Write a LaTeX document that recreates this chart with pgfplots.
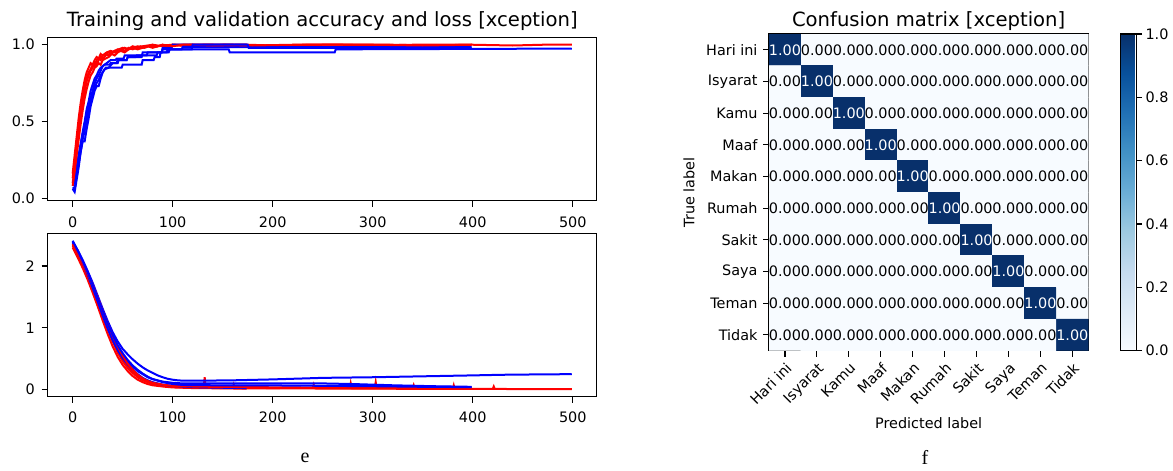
\documentclass[border=0pt]{standalone}
\usepackage{fontspec}
\setmainfont{DejaVu Sans}
\newfontfamily\capserif{Liberation Serif}
\usepackage{pgfplots}
\usepackage{pgfplotstable}
\pgfplotsset{compat=1.18}
\newcommand{\tsz}{\fontsize{14.4}{17}\selectfont}
\newcommand{\ttsz}{\fontsize{19.6}{23}\selectfont}
\definecolor{mplred}{RGB}{255,0,0}
\definecolor{mplblue}{RGB}{0,0,255}
\pgfplotsset{
  mpl/.style={scale only axis, tick align=outside, major tick length=6pt, tick pos=left,
    axis line style={line width=1.1pt, black}, tick style={line width=1.1pt, black},
    ticklabel style={font=\tsz, text=black}, /pgf/number format/assume math mode=true},
  lineax/.style={mpl, width=549pt, xmin=-24.95, xmax=523.95, xtick={0,100,200,300,400,500},
    xticklabel style={yshift=-6pt}, yticklabel style={xshift=-3.5pt},
    every axis title/.style={at={(0.5,1)}, anchor=base, inner sep=0pt, font=\ttsz, yshift=10.6pt}},
  tr/.style={mplred, line width=2pt},
  va/.style={mplblue, line width=2pt},
}
\pgfplotstableread{
x y c
0 0 1
1 0 0
2 0 0
3 0 0
4 0 0
5 0 0
6 0 0
7 0 0
8 0 0
9 0 0
0 1 0
1 1 1
2 1 0
3 1 0
4 1 0
5 1 0
6 1 0
7 1 0
8 1 0
9 1 0
0 2 0
1 2 0
2 2 1
3 2 0
4 2 0
5 2 0
6 2 0
7 2 0
8 2 0
9 2 0
0 3 0
1 3 0
2 3 0
3 3 1
4 3 0
5 3 0
6 3 0
7 3 0
8 3 0
9 3 0
0 4 0
1 4 0
2 4 0
3 4 0
4 4 1
5 4 0
6 4 0
7 4 0
8 4 0
9 4 0
0 5 0
1 5 0
2 5 0
3 5 0
4 5 0
5 5 1
6 5 0
7 5 0
8 5 0
9 5 0
0 6 0
1 6 0
2 6 0
3 6 0
4 6 0
5 6 0
6 6 1
7 6 0
8 6 0
9 6 0
0 7 0
1 7 0
2 7 0
3 7 0
4 7 0
5 7 0
6 7 0
7 7 1
8 7 0
9 7 0
0 8 0
1 8 0
2 8 0
3 8 0
4 8 0
5 8 0
6 8 0
7 8 0
8 8 1
9 8 0
0 9 0
1 9 0
2 9 0
3 9 0
4 9 0
5 9 0
6 9 0
7 9 0
8 9 0
9 9 1
}\cmtable
\begin{document}
\begin{tikzpicture}
\path[use as bounding box] (0pt,0pt) rectangle (1173pt,-471pt);
% ---------- accuracy ----------
\begin{axis}[lineax, at={(47.7pt,-37.3pt)}, anchor=north west, height=163.6pt,
  ymin=-0.0185, ymax=1.0485, ytick={0,0.5,1},
  yticklabel style={/pgf/number format/.cd, fixed, fixed zerofill, precision=1},
  title={Training and validation accuracy and loss [xception]}]
\addplot[tr] coordinates {(0,0.13)(2,0.24)(4,0.36)(6,0.47)(8,0.57)(10,0.65)(12,0.72)(14,0.78)(16,0.82)(18,0.84)(20,0.87)(22,0.86)(24,0.90)(26,0.91)(28,0.90)(30,0.93)(33,0.94)(36,0.93)(39,0.95)(42,0.96)(45,0.95)(48,0.97)(52,0.96)(56,0.98)(60,0.97)(64,0.98)(68,0.99)(72,0.98)(76,0.99)(80,0.985)(85,0.99)(90,1.0)(95,0.99)(100,1.0)(110,0.995)(120,1.0)(135,0.99)(150,1.0)(175,1.0)(200,0.995)(230,1.0)(270,1.0)(300,0.995)(340,1.0)(400,1.0)(440,0.995)(470,1.0)(499,1.0)};
\addplot[va] coordinates {(0,0.06)(2,0.04)(4,0.12)(6,0.2)(8,0.3)(10,0.37)(12,0.37)(14,0.45)(16,0.52)(18,0.6)(20,0.65)(22,0.7)(24,0.73)(26,0.73)(28,0.78)(30,0.82)(33,0.85)(36,0.85)(40,0.88)(45,0.88)(46,0.9)(54,0.9)(55,0.92)(63,0.92)(64,0.93)(84,0.93)(85,0.95)(96,0.95)(97,0.97)(156,0.97)(157,0.95)(262,0.95)(263,0.97)(499,0.975)};
\addplot[tr] coordinates {(0,0.10)(2,0.19)(4,0.30)(6,0.42)(8,0.53)(10,0.62)(12,0.70)(14,0.76)(16,0.80)(18,0.83)(20,0.85)(22,0.88)(24,0.87)(26,0.90)(28,0.92)(30,0.91)(33,0.93)(36,0.95)(39,0.94)(42,0.96)(45,0.97)(48,0.96)(52,0.98)(56,0.97)(60,0.98)(65,0.99)(70,0.98)(75,0.99)(80,1.0)(85,0.99)(90,0.995)(100,1.0)(115,0.99)(130,1.0)(160,1.0)(200,0.995)(250,1.0)(320,1.0)(360,0.995)(399,1.0)};
\addplot[va] coordinates {(0,0.1)(2,0.12)(4,0.2)(6,0.28)(8,0.35)(10,0.42)(12,0.48)(14,0.55)(16,0.6)(18,0.65)(20,0.7)(22,0.75)(24,0.78)(26,0.8)(28,0.83)(30,0.86)(34,0.88)(38,0.9)(43,0.9)(44,0.91)(51,0.91)(52,0.93)(74,0.93)(75,0.95)(89,0.95)(90,0.97)(109,0.97)(110,0.985)(399,0.985)};
\addplot[tr] coordinates {(0,0.16)(2,0.28)(4,0.40)(6,0.52)(8,0.62)(10,0.70)(12,0.77)(14,0.82)(16,0.85)(18,0.88)(20,0.87)(22,0.90)(24,0.92)(26,0.91)(28,0.94)(30,0.93)(34,0.95)(38,0.96)(42,0.95)(46,0.97)(50,0.98)(55,0.97)(60,0.99)(65,0.98)(70,0.99)(80,1.0)(90,0.99)(100,1.0)(120,1.0)(140,0.995)(174,1.0)};
\addplot[va] coordinates {(0,0.08)(2,0.1)(4,0.18)(6,0.27)(8,0.35)(10,0.43)(12,0.5)(14,0.58)(16,0.63)(18,0.7)(20,0.74)(22,0.78)(24,0.8)(26,0.83)(28,0.85)(32,0.87)(37,0.87)(38,0.88)(44,0.88)(45,0.9)(54,0.9)(55,0.92)(69,0.92)(70,0.95)(89,0.95)(90,0.98)(99,0.98)(100,1.0)(174,1.0)};
\addplot[tr] coordinates {(0,0.08)(2,0.17)(4,0.28)(6,0.38)(8,0.48)(10,0.57)(12,0.65)(14,0.71)(16,0.76)(18,0.80)(20,0.82)(22,0.85)(24,0.86)(26,0.88)(28,0.87)(30,0.90)(33,0.91)(36,0.92)(39,0.94)(42,0.93)(45,0.95)(48,0.96)(52,0.95)(56,0.97)(60,0.98)(65,0.97)(70,0.98)(75,0.99)(80,0.98)(85,0.99)(90,1.0)(100,0.99)(110,1.0)(140,1.0)(180,0.995)(220,1.0)(300,1.0)(350,0.995)(399,1.0)};
\addplot[va] coordinates {(0,0.07)(2,0.06)(4,0.14)(6,0.22)(8,0.3)(10,0.38)(12,0.44)(14,0.5)(16,0.57)(18,0.63)(20,0.67)(22,0.72)(24,0.75)(26,0.77)(28,0.8)(32,0.84)(36,0.85)(49,0.85)(50,0.87)(69,0.87)(70,0.9)(81,0.9)(82,0.92)(87,0.92)(88,0.95)(94,0.95)(95,0.97)(119,0.97)(120,1.0)(175,1.0)(176,0.98)(399,0.98)};
\end{axis}
% ---------- loss ----------
\begin{axis}[lineax, at={(47.7pt,-233.3pt)}, anchor=north west, height=163.4pt,
  ymin=-0.115, ymax=2.53, ytick={0,1,2}]
\addplot[tr] coordinates {(0,2.33)(5,2.18)(10,2.02)(15,1.84)(20,1.64)(25,1.42)(30,1.2)(35,0.98)(40,0.78)(45,0.6)(50,0.46)(55,0.35)(60,0.27)(65,0.2)(70,0.15)(75,0.12)(80,0.09)(90,0.06)(100,0.045)(110,0.035)(125,0.03)(131,0.03)(132,0.2)(133,0.03)(150,0.025)(180,0.02)(210,0.02)(240,0.018)(277,0.015)(278,0.1)(279,0.015)(302,0.015)(303,0.12)(304,0.015)(350,0.012)(380,0.012)(381,0.07)(382,0.01)(420,0.01)(421,0.05)(422,0.01)(499,0.008)};
\addplot[va] coordinates {(0,2.4)(5,2.26)(10,2.1)(15,1.92)(20,1.73)(25,1.52)(30,1.31)(35,1.11)(40,0.93)(45,0.78)(50,0.66)(55,0.57)(60,0.49)(65,0.42)(70,0.36)(75,0.31)(80,0.27)(85,0.23)(90,0.2)(95,0.175)(100,0.16)(105,0.15)(110,0.145)(130,0.145)(160,0.15)(200,0.165)(250,0.19)(300,0.2)(350,0.215)(400,0.23)(430,0.24)(460,0.245)(499,0.25)};
\addplot[tr] coordinates {(0,2.35)(5,2.2)(10,2.04)(15,1.87)(20,1.68)(25,1.47)(30,1.25)(35,1.03)(40,0.83)(45,0.65)(50,0.5)(55,0.38)(60,0.29)(65,0.22)(70,0.17)(75,0.13)(80,0.1)(90,0.07)(100,0.05)(120,0.04)(160,0.03)(161,0.08)(162,0.03)(200,0.025)(240,0.03)(241,0.08)(242,0.025)(300,0.02)(340,0.02)(341,0.07)(342,0.02)(399,0.015)};
\addplot[va] coordinates {(0,2.39)(5,2.24)(10,2.07)(15,1.88)(20,1.68)(25,1.46)(30,1.24)(35,1.03)(40,0.84)(45,0.68)(50,0.55)(55,0.45)(60,0.37)(65,0.3)(70,0.25)(75,0.2)(80,0.17)(90,0.13)(100,0.11)(110,0.1)(130,0.1)(160,0.1)(200,0.1)(250,0.1)(280,0.09)(320,0.07)(360,0.055)(399,0.045)};
\addplot[tr] coordinates {(0,2.3)(5,2.14)(10,1.97)(15,1.78)(20,1.57)(25,1.35)(30,1.12)(35,0.9)(40,0.7)(45,0.53)(50,0.4)(55,0.3)(60,0.22)(65,0.16)(70,0.12)(75,0.09)(80,0.07)(90,0.05)(100,0.035)(120,0.025)(150,0.02)(174,0.015)};
\addplot[va] coordinates {(0,2.38)(5,2.22)(10,2.05)(15,1.86)(20,1.65)(25,1.43)(30,1.2)(35,0.99)(40,0.8)(45,0.64)(50,0.51)(55,0.41)(60,0.32)(65,0.25)(70,0.19)(75,0.15)(80,0.12)(90,0.08)(100,0.06)(120,0.04)(150,0.03)(174,0.025)};
\addplot[tr] coordinates {(0,2.36)(5,2.21)(10,2.05)(15,1.88)(20,1.7)(25,1.5)(30,1.28)(35,1.07)(40,0.87)(45,0.7)(50,0.55)(55,0.42)(60,0.32)(65,0.24)(70,0.18)(75,0.14)(80,0.11)(90,0.08)(100,0.06)(120,0.05)(140,0.045)(180,0.04)(220,0.035)(260,0.03)(300,0.03)(350,0.025)(399,0.02)};
\addplot[va] coordinates {(0,2.41)(5,2.25)(10,2.08)(15,1.9)(20,1.7)(25,1.49)(30,1.28)(35,1.07)(40,0.88)(45,0.72)(50,0.59)(55,0.48)(60,0.39)(65,0.32)(70,0.26)(75,0.21)(80,0.17)(90,0.12)(100,0.09)(110,0.075)(140,0.07)(180,0.07)(220,0.065)(260,0.06)(300,0.055)(350,0.045)(399,0.04)};
\end{axis}
% ---------- confusion matrix ----------
\begin{axis}[mpl, at={(769pt,-34pt)}, anchor=north west, width=319.3pt, height=316.7pt,
  xmin=-0.5, xmax=9.5, ymin=-0.5, ymax=9.5, y dir=reverse,
  xtick={0,1,2,3,4,5,6,7,8,9}, ytick={0,1,2,3,4,5,6,7,8,9},
  xticklabels={Hari ini,Isyarat,Kamu,Maaf,Makan,Rumah,Sakit,Saya,Teman,Tidak},
  yticklabels={Hari ini,Isyarat,Kamu,Maaf,Makan,Rumah,Sakit,Saya,Teman,Tidak},
  xticklabel style={rotate=45, anchor=north east},
  yticklabel style={xshift=-2pt},
  title={Confusion matrix [xception]},
  every axis title/.style={at={(0.5,1)}, anchor=base, inner sep=0pt, font=\ttsz, yshift=7.3pt},
  xlabel={Predicted label}, ylabel={True label},
  label style={font=\tsz},
  xlabel style={at={(axis description cs:0.5,-0.2283)}, anchor=center},
  ylabel style={at={(axis description cs:-0.2224,0.5)}, anchor=south},
  colormap={blues}{rgb255=(247,251,255) rgb255=(222,235,247) rgb255=(198,219,239) rgb255=(158,202,225) rgb255=(107,174,214) rgb255=(66,146,198) rgb255=(33,113,181) rgb255=(8,81,156) rgb255=(8,48,107)},
  point meta min=0, point meta max=1,
  colorbar,
  colorbar style={at={(parent axis.north east)}, anchor=north west, xshift=23.2pt,
    scale only axis, width=16pt, ytick={0,0.2,0.4,0.6,0.8,1},
    ytick pos=right, yticklabel pos=right,
    tick align=outside, major tick length=6pt,
    axis line style={line width=1.1pt, black}, tick style={line width=1.1pt, black},
    yticklabel style={font=\tsz, text=black, /pgf/number format/.cd, fixed, fixed zerofill, precision=1, assume math mode=true}},
  ]
\addplot[matrix plot*, mesh/cols=10, point meta=explicit]
  table[x=x, y=y, meta=c] {\cmtable};
\addplot[only marks, mark=*, mark size=0pt, mark options={draw=none, fill=none}, point meta=explicit,
  restrict expr to domain={\thisrow{c}}{-0.5:0.5},
  nodes near coords={\pgfmathprintnumber[fixed,fixed zerofill,precision=2,assume math mode=true]{\pgfplotspointmeta}},
  nodes near coords style={anchor=center, font=\tsz, inner sep=0pt, text=black}]
  table[x=x, y=y, meta=c] {\cmtable};
\addplot[only marks, mark=*, mark size=0pt, mark options={draw=none, fill=none}, point meta=explicit,
  restrict expr to domain={\thisrow{c}}{0.5:1.5},
  nodes near coords={\pgfmathprintnumber[fixed,fixed zerofill,precision=2,assume math mode=true]{\pgfplotspointmeta}},
  nodes near coords style={anchor=center, font=\tsz, inner sep=0pt, text=white}]
  table[x=x, y=y, meta=c] {\cmtable};
\end{axis}
\node[font=\capserif\fontsize{20}{24}\selectfont] at (305pt,-458pt) {e};
\node[font=\capserif\fontsize{20}{24}\selectfont] at (925pt,-457pt) {f};
\end{tikzpicture}
\end{document}
